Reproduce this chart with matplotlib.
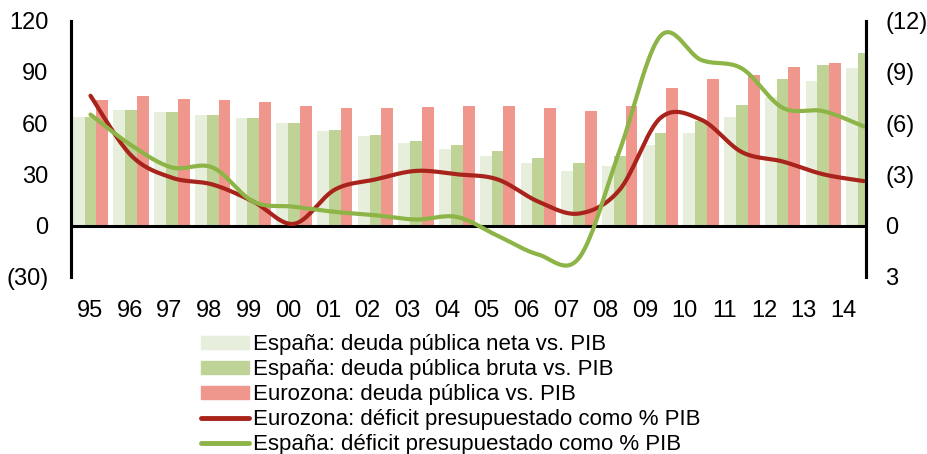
import matplotlib.pyplot as plt
import numpy as np
from matplotlib.lines import Line2D
from matplotlib.patches import Patch

plt.rcParams['font.family'] = ['Liberation Sans', 'DejaVu Sans']

years = ["95", "96", "97", "98", "99", "00", "01", "02", "03", "04",
         "05", "06", "07", "08", "09", "10", "11", "12", "13", "14"]

# deuda pública (% PIB), eje izquierdo
esp_deuda_neta = [63.5, 67.7, 66.3, 64.7, 63.0, 59.9, 55.4, 52.4, 48.3, 44.6,
                  40.7, 36.4, 32.1, 35.0, 47.2, 54.0, 63.4, 75.5, 84.7, 92.5]
esp_deuda_bruta = [63.7, 67.7, 66.3, 64.7, 63.0, 59.9, 55.9, 53.0, 49.3, 47.0,
                   43.6, 39.7, 36.6, 40.7, 54.0, 61.2, 70.6, 85.8, 93.8, 100.9]
euro_deuda = [73.5, 75.7, 73.9, 73.5, 72.5, 70.0, 68.7, 68.7, 69.6, 70.0,
              70.2, 68.8, 66.9, 70.2, 80.4, 85.8, 88.2, 93.0, 95.2, np.nan]

# déficit (% PIB), eje derecho invertido en etiquetas
euro_deficit = [7.6, 4.1, 2.8, 2.4, 1.4, 0.1, 2.1, 2.7, 3.2, 3.0,
                2.7, 1.4, 0.7, 2.1, 6.3, 6.2, 4.3, 3.75, 3.0, 2.6]
esp_deficit = [6.5, 4.7, 3.4, 3.4, 1.4, 1.1, 0.8, 0.6, 0.35, 0.5,
               -0.6, -1.7, -1.9, 4.4, 11.1, 9.7, 9.2, 6.9, 6.7, 5.8]

labels = ["España: deuda pública neta vs. PIB",
          "España: deuda pública bruta vs. PIB",
          "Eurozona: deuda pública vs. PIB",
          "Eurozona: déficit presupuestado como % PIB",
          "España: déficit presupuestado como % PIB"]

c_neta = "#e7efdc"
c_bruta = "#c0d396"
c_euro = "#f0978d"
c_euro_line = "#a8231b"
c_esp_line = "#8db446"


def smooth(xs, ys, steps=30):
    # bezier por tramos, como las líneas suavizadas de Excel
    pts = np.column_stack([xs, ys]).astype(float)
    padded = np.vstack([pts[0], pts, pts[-1]])
    t = np.linspace(0, 1, steps)[:, None]
    out = []
    for i in range(len(pts) - 1):
        p0, p3 = pts[i], pts[i + 1]
        p1 = p0 + (padded[i + 2] - padded[i]) / 6
        p2 = p3 - (padded[i + 3] - padded[i + 1]) / 6
        seg = (1 - t) ** 3 * p0 + 3 * (1 - t) ** 2 * t * p1 + 3 * (1 - t) * t ** 2 * p2 + t ** 3 * p3
        out.append(seg if i == 0 else seg[1:])
    c = np.vstack(out)
    return c[:, 0], c[:, 1]


fig = plt.figure(figsize=(9.28, 4.54), dpi=100)
ax = fig.add_axes([0.0762, 0.3905, 0.857, 0.564])
x = np.arange(len(years))
w = 0.29

ax.bar(x - w, esp_deuda_neta, w, color=c_neta)
ax.bar(x, esp_deuda_bruta, w, color=c_bruta)
ax.bar(x + w, euro_deuda, w, color=c_euro)

ax.set_xlim(-0.486, 19.05)
ax.set_ylim(-30, 120)
ax.set_yticks([-30, 0, 30, 60, 90, 120])
ax.set_yticklabels(["(30)", "0", "30", "60", "90", "120"])
# las etiquetas de año van con un paso algo menor que las barras
ax.set_xticks(x * 0.974 - 0.01)
ax.set_xticklabels(years)
ax.tick_params(axis="both", length=0, labelsize=17)
ax.tick_params(axis="y", pad=16)
ax.tick_params(axis="x", pad=17)

ax2 = ax.twinx()
ax2.set_ylim(-3, 12)
ax2.set_yticks([-3, 0, 3, 6, 9, 12])
ax2.set_yticklabels(["3", "0", "(3)", "(6)", "(9)", "(12)"])
ax2.tick_params(axis="y", length=0, labelsize=17, pad=14)

sx, sy = smooth(x, euro_deficit)
ax2.plot(sx, sy, color=c_euro_line, lw=3, solid_capstyle="round")
sx, sy = smooth(x, esp_deficit)
ax2.plot(sx, sy, color=c_esp_line, lw=3, solid_capstyle="round")
ax2.axhline(0, color="black", lw=2.2, zorder=1)

for a in (ax, ax2):
    a.spines["top"].set_visible(False)
    a.spines["bottom"].set_visible(False)
    a.spines["left"].set_linewidth(2.2)
    a.spines["right"].set_linewidth(2.2)

handles = [Patch(color=c_neta), Patch(color=c_bruta), Patch(color=c_euro),
           Line2D([], [], color=c_euro_line, lw=3.5, solid_capstyle="round"),
           Line2D([], [], color=c_esp_line, lw=3.5, solid_capstyle="round")]
fig.legend(handles, labels, loc="upper left", bbox_to_anchor=(0.2166, 0.264),
           frameon=False, fontsize=16, handlelength=2.15, handleheight=0.55,
           handletextpad=0.18, labelspacing=0.18, borderpad=0, borderaxespad=0)

fig.savefig("out.png", dpi=100)
